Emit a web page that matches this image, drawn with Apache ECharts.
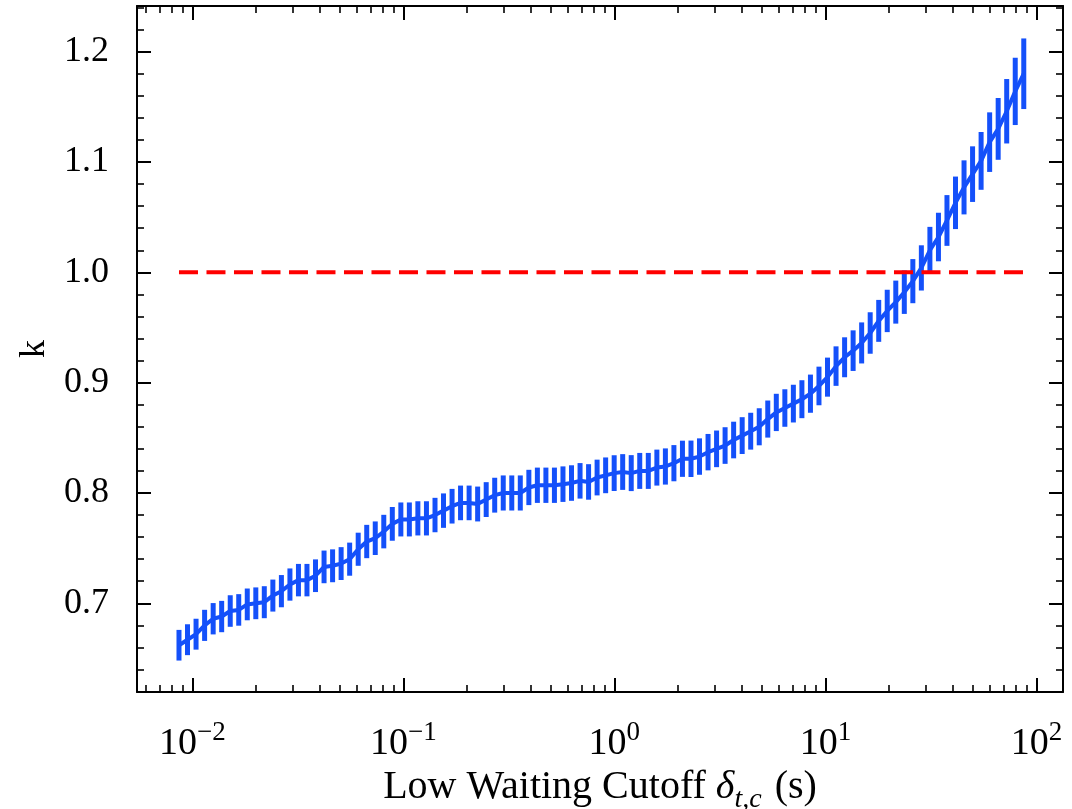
<!DOCTYPE html>
<html>
<head>
<meta charset="utf-8">
<script src="https://cdn.jsdelivr.net/npm/echarts@6/dist/echarts.min.js"></script>
<style>
    html, body { margin: 0; padding: 0; background: #fff; }
    #chart-k { width: 1072px; height: 809px; }
</style>
</head>
<body>
<div id="chart-k"></div>
<script>

// cutoff values (s)
const cutoffs = [
    0.008650, 0.009493, 0.01042, 0.01144, 0.01256, 0.01378, 0.01513, 0.01660, 0.01822, 0.02000,
    0.02194, 0.02409, 0.02644, 0.02902, 0.03185, 0.03495, 0.03837, 0.04211, 0.04622, 0.05073,
    0.05568, 0.06112, 0.06708, 0.07362, 0.08080, 0.08867, 0.09734, 0.1068, 0.1172, 0.1287,
    0.1413, 0.1550, 0.1702, 0.1867, 0.2050, 0.2250, 0.2470, 0.2710, 0.2975, 0.3265,
    0.3583, 0.3934, 0.4317, 0.4738, 0.5200, 0.5708, 0.6265, 0.6877, 0.7548, 0.8283,
    0.9092, 0.9979, 1.095, 1.202, 1.319, 1.448, 1.590, 1.745, 1.915, 2.102,
    2.307, 2.532, 2.779, 3.050, 3.347, 3.674, 4.033, 4.426, 4.858, 5.332,
    5.852, 6.424, 7.050, 7.738, 8.494, 9.322, 10.23, 11.23, 12.33, 13.53,
    14.85, 16.30, 17.89, 19.63, 21.55, 23.65, 25.96, 28.49, 31.27, 34.33,
    37.67, 41.34, 45.38, 49.81, 54.67, 60.01, 65.86, 72.28, 79.34, 87.08
];

const kValues = [
    0.662, 0.667, 0.672, 0.680, 0.686, 0.688, 0.693, 0.694, 0.699, 0.700,
    0.701, 0.707, 0.711, 0.717, 0.721, 0.721, 0.725, 0.733, 0.734, 0.736,
    0.740, 0.749, 0.756, 0.759, 0.765, 0.772, 0.776, 0.776, 0.777, 0.777,
    0.780, 0.784, 0.788, 0.791, 0.791, 0.790, 0.794, 0.798, 0.800, 0.800,
    0.800, 0.805, 0.807, 0.807, 0.807, 0.808, 0.809, 0.811, 0.810, 0.814,
    0.816, 0.818, 0.819, 0.818, 0.820, 0.820, 0.823, 0.824, 0.827, 0.831,
    0.831, 0.833, 0.837, 0.840, 0.843, 0.848, 0.852, 0.856, 0.860, 0.867,
    0.873, 0.877, 0.881, 0.885, 0.890, 0.897, 0.905, 0.915, 0.923, 0.929,
    0.936, 0.945, 0.956, 0.965, 0.973, 0.982, 0.992, 1.004, 1.020, 1.032,
    1.047, 1.063, 1.077, 1.089, 1.101, 1.118, 1.130, 1.146, 1.164, 1.180
];

// half length of each error bar
const kErrors = [
    0.0139, 0.0140, 0.0140, 0.0141, 0.0142, 0.0142, 0.0143, 0.0143, 0.0144, 0.0144,
    0.0145, 0.0145, 0.0146, 0.0146, 0.0147, 0.0147, 0.0148, 0.0148, 0.0149, 0.0149,
    0.0150, 0.0150, 0.0151, 0.0152, 0.0152, 0.0153, 0.0154, 0.0154, 0.0155, 0.0155,
    0.0156, 0.0156, 0.0157, 0.0157, 0.0157, 0.0158, 0.0158, 0.0158, 0.0159, 0.0159,
    0.0159, 0.0160, 0.0160, 0.0160, 0.0160, 0.0161, 0.0161, 0.0161, 0.0161, 0.0162,
    0.0162, 0.0162, 0.0162, 0.0163, 0.0163, 0.0163, 0.0163, 0.0164, 0.0164, 0.0164,
    0.0165, 0.0165, 0.0165, 0.0166, 0.0166, 0.0166, 0.0167, 0.0167, 0.0168, 0.0168,
    0.0169, 0.0170, 0.0171, 0.0172, 0.0173, 0.0175, 0.0177, 0.0179, 0.0181, 0.0184,
    0.0186, 0.0188, 0.0190, 0.0192, 0.0195, 0.0197, 0.0200, 0.0205, 0.0212, 0.0220,
    0.0230, 0.0238, 0.0245, 0.0252, 0.0262, 0.0270, 0.0280, 0.0292, 0.0305, 0.0320
];

const refLevel = 1.0;

const xMajorTicks = [0.01, 0.1, 1, 10, 100];
const xTickExponents = ['\u22122', '\u22121', '0', '1', '2'];
const xMinorTicks = [
    0.006, 0.007, 0.008, 0.009,
    0.02, 0.03, 0.04, 0.05, 0.06, 0.07, 0.08, 0.09,
    0.2, 0.3, 0.4, 0.5, 0.6, 0.7, 0.8, 0.9,
    2, 3, 4, 5, 6, 7, 8, 9,
    20, 30, 40, 50, 60, 70, 80, 90
];
const yMajorTicks = [0.7, 0.8, 0.9, 1.0, 1.1, 1.2];
const yTickLabels = ['0.7', '0.8', '0.9', '1.0', '1.1', '1.2'];
const yMinorTicks = [
    0.62, 0.64, 0.66, 0.68, 0.72, 0.74, 0.76, 0.78, 0.82, 0.84, 0.86, 0.88,
    0.92, 0.94, 0.96, 0.98, 1.02, 1.04, 1.06, 1.08, 1.12, 1.14, 1.16, 1.18,
    1.22, 1.24
];

const X_MIN = 0.005471, X_MAX = 133.6;
const Y_MIN = 0.6196, Y_MAX = 1.2414;

$ready(function () {
    kChartInit();
});

function $ready(fn) {
    if (document.readyState !== 'loading') fn();
    else document.addEventListener('DOMContentLoaded', fn);
}

const kChartInit = () => {
    var chartDom = document.getElementById('chart-k');
    var myChart = echarts.init(chartDom);
    var option;

    var serif = "'Liberation Serif', 'DejaVu Serif', serif";
    var blue = '#1450fa';
    var fontSize = 36;

    var lineData = cutoffs.map((x, i) => [x, kValues[i]]);
    var barData = cutoffs.map((x, i) => [x, kValues[i] - kErrors[i], kValues[i] + kErrors[i]]);

    var frameLine = { show: true, onZero: false, lineStyle: { color: '#000', width: 2 } };
    var majorTick = (vals) => ({ show: true, inside: true, length: 14, customValues: vals, lineStyle: { color: '#000', width: 2 } });
    var minorTick = (vals) => ({ show: true, inside: true, length: 7, customValues: vals, lineStyle: { color: '#000', width: 1.6 } });

    var xAxisBase = (pos, line, tick, label) => ({
        type: 'log',
        position: pos,
        min: X_MIN,
        max: X_MAX,
        axisLine: line ? frameLine : { show: false },
        axisTick: tick,
        axisLabel: label || { show: false },
        splitLine: { show: false },
        minorTick: { show: false }
    });

    var yAxisBase = (pos, line, tick, label) => ({
        type: 'value',
        position: pos,
        min: Y_MIN,
        max: Y_MAX,
        axisLine: line ? frameLine : { show: false },
        axisTick: tick,
        axisLabel: label || { show: false },
        splitLine: { show: false }
    });

    var xLabel = {
        show: true,
        customValues: xMajorTicks,
        margin: 33,
        formatter: function (v) {
            var idx = xMajorTicks.findIndex(t => Math.abs(Math.log10(t) - Math.log10(v)) < 1e-6);
            return '{b|10}{s|' + xTickExponents[idx] + '}';
        },
        rich: {
            b: { fontFamily: serif, fontSize: 38, color: '#000', verticalAlign: 'bottom', lineHeight: 38 },
            s: { fontFamily: serif, fontSize: 27, color: '#000', verticalAlign: 'bottom', lineHeight: 27, padding: [0, 0, 17, 0] }
        }
    };

    var yLabel = {
        show: true,
        customValues: yMajorTicks,
        margin: 28,
        fontFamily: serif,
        fontSize: fontSize,
        color: '#000',
        formatter: function (v) {
            var idx = yMajorTicks.findIndex(t => Math.abs(t - v) < 1e-6);
            return yTickLabels[idx];
        }
    };

    option = {
        animation: false,
        backgroundColor: '#fff',
        grid: {
            left: 137,
            right: 9,
            top: 6,
            bottom: 117,
            containLabel: false,
            outerBoundsMode: 'none'
        },
        xAxis: [
            Object.assign(xAxisBase('bottom', true, majorTick(xMajorTicks), xLabel), {
                name: '{n|Low Waiting Cutoff }{d|\u03b4}{sub|t,c}{n| (s)}',
                nameLocation: 'middle',
                nameGap: 71,
                nameTextStyle: {
                    rich: {
                        n: { fontFamily: serif, fontSize: 40, color: '#000', verticalAlign: 'top', lineHeight: 40 },
                        d: { fontFamily: serif, fontSize: 40, fontStyle: 'italic', color: '#000', verticalAlign: 'top', lineHeight: 40 },
                        sub: { fontFamily: serif, fontSize: 28, fontStyle: 'italic', color: '#000', verticalAlign: 'top', lineHeight: 28, padding: [18, 3, 0, 0] }
                    }
                }
            }),
            xAxisBase('bottom', false, minorTick(xMinorTicks)),
            xAxisBase('top', true, majorTick(xMajorTicks)),
            xAxisBase('top', false, minorTick(xMinorTicks))
        ],
        yAxis: [
            Object.assign(yAxisBase('left', true, majorTick(yMajorTicks), yLabel), {
                name: 'k',
                nameLocation: 'middle',
                nameGap: 84,
                nameTextStyle: { fontFamily: serif, fontSize: fontSize, color: '#000' }
            }),
            yAxisBase('left', false, minorTick(yMinorTicks)),
            yAxisBase('right', true, majorTick(yMajorTicks)),
            yAxisBase('right', false, minorTick(yMinorTicks))
        ],
        series: [
            {
                name: 'k',
                type: 'line',
                data: lineData,
                symbol: 'none',
                lineStyle: { color: blue, width: 4 },
                z: 3
            },
            {
                name: 'error',
                type: 'custom',
                data: barData,
                encode: { x: 0, y: [1, 2] },
                renderItem: function (params, api) {
                    var x = api.value(0);
                    var lo = api.coord([x, api.value(1)]);
                    var hi = api.coord([x, api.value(2)]);
                    return {
                        type: 'line',
                        shape: { x1: lo[0], y1: lo[1], x2: hi[0], y2: hi[1] },
                        style: { stroke: blue, lineWidth: 5 }
                    };
                },
                z: 3
            },
            {
                name: 'k = 1',
                type: 'line',
                data: [[cutoffs[0], refLevel], [cutoffs[cutoffs.length - 1], refLevel]],
                symbol: 'none',
                lineStyle: { color: '#ff0000', width: 4, type: [19, 8.5] },
                z: 4
            }
        ]
    };

    option && myChart.setOption(option);
};
</script>
</body>
</html>
